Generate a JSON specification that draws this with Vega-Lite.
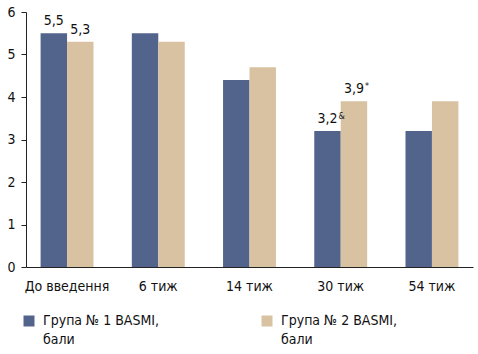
{
  "$schema": "https://vega.github.io/schema/vega-lite/v6.json",
  "width": 447,
  "height": 255,
  "autosize": "none",
  "padding": {"left": 26, "top": 12, "right": 5, "bottom": 87},
  "config": {
    "view": {"stroke": null},
    "font": "DejaVu Sans Condensed",
    "axis": {"labelFont": "DejaVu Sans Condensed", "labelFontSize": 14, "labelColor": "#111", "domainColor": "#222", "tickColor": "#222", "grid": false, "title": null}
  },
  "data": {
    "values": [
      {"period": "До введення", "group": "Група № 1 BASMI,|бали", "value": 5.5, "label": "5,5", "sup": ""},
      {"period": "До введення", "group": "Група № 2 BASMI,|бали", "value": 5.3, "label": "5,3", "sup": ""},
      {"period": "6 тиж", "group": "Група № 1 BASMI,|бали", "value": 5.5, "label": "", "sup": ""},
      {"period": "6 тиж", "group": "Група № 2 BASMI,|бали", "value": 5.3, "label": "", "sup": ""},
      {"period": "14 тиж", "group": "Група № 1 BASMI,|бали", "value": 4.4, "label": "", "sup": ""},
      {"period": "14 тиж", "group": "Група № 2 BASMI,|бали", "value": 4.7, "label": "", "sup": ""},
      {"period": "30 тиж", "group": "Група № 1 BASMI,|бали", "value": 3.2, "label": "3,2", "sup": "&"},
      {"period": "30 тиж", "group": "Група № 2 BASMI,|бали", "value": 3.9, "label": "3,9", "sup": "*"},
      {"period": "54 тиж", "group": "Група № 1 BASMI,|бали", "value": 3.2, "label": "", "sup": ""},
      {"period": "54 тиж", "group": "Група № 2 BASMI,|бали", "value": 3.9, "label": "", "sup": ""}
    ]
  },
  "encoding": {
    "x": {"field": "period", "type": "nominal", "sort": null,
      "scale": {"paddingInner": 0.42, "paddingOuter": 0.16},
      "axis": {"ticks": false, "labelAngle": 0, "labelPadding": 12, "domainWidth": 1,
        "encode": {"labels": {"update": {"dx": {"signal": "datum.index == 0 ? 11 : 6"}}}}}},
    "xOffset": {"field": "group", "type": "nominal", "scale": {"paddingInner": 0, "paddingOuter": 0}},
    "y": {"field": "value", "type": "quantitative",
      "scale": {"domain": [0, 6], "nice": false},
      "axis": {"values": [0, 1, 2, 3, 4, 5, 6], "tickSize": 5, "labelPadding": 6, "domainWidth": 1, "labelFontSize": 14}}
  },
  "layer": [
    {
      "mark": {"type": "bar"},
      "encoding": {
        "color": {"field": "group", "type": "nominal",
          "scale": {"range": ["#52648c", "#d9c2a2"]},
          "legend": {
            "orient": "none", "legendX": -4, "legendY": 302,
            "direction": "horizontal", "columns": 2, "title": null,
            "symbolType": "square", "symbolSize": 121, "symbolStrokeWidth": 0,
            "labelFont": "DejaVu Sans Condensed", "labelFontSize": 14, "labelColor": "#111",
            "labelOffset": 7, "labelLimit": 200, "columnPadding": 100,
            "labelBaseline": "top",
            "labelExpr": "split(datum.label, '|')",
            "encode": {"labels": {"update": {"dy": {"value": -7}, "lineHeight": {"value": 19}}}}
          }}
      }
    },
    {
      "transform": [{"filter": "datum.label != ''"}],
      "mark": {"type": "text", "baseline": "bottom", "dy": -5, "fontSize": 14, "color": "#111"},
      "encoding": {"text": {"field": "label"}}
    },
    {
      "transform": [{"filter": "datum.sup != ''"}],
      "mark": {"type": "text", "baseline": "bottom", "align": "left", "dx": 11, "dy": -10, "fontSize": 9, "color": "#111"},
      "encoding": {"text": {"field": "sup"}}
    }
  ]
}
